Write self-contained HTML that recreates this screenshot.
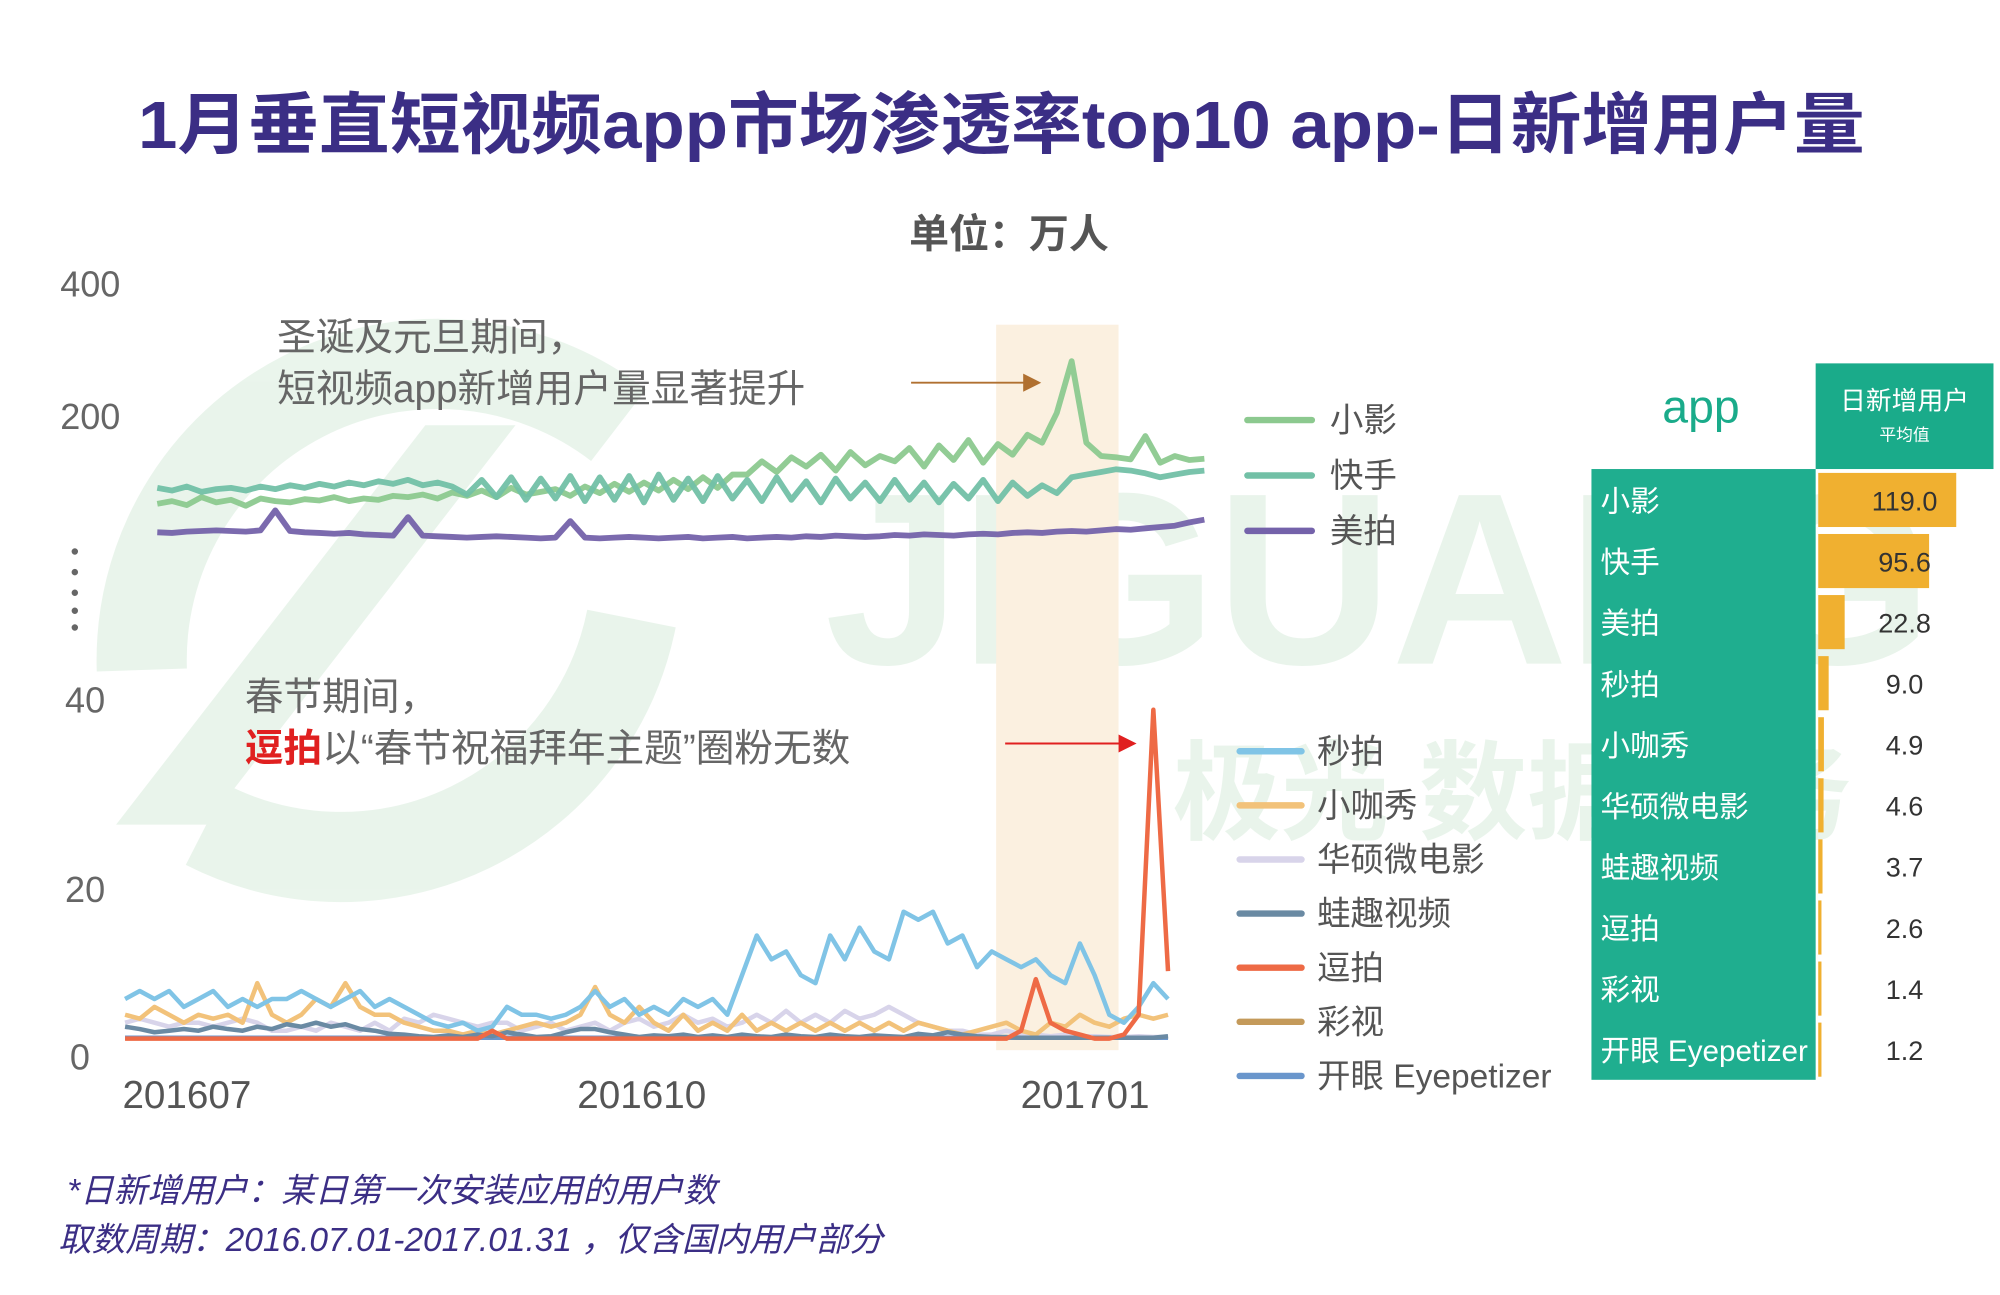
<!DOCTYPE html>
<html><head><meta charset="utf-8"><style>
html,body{margin:0;padding:0;background:#fff;}
svg{display:block;}
text{font-family:"Liberation Sans","Noto Sans CJK SC",sans-serif;}
</style></head><body>
<svg id="chart" width="2000" height="1295" viewBox="0 0 1552 1005" xmlns="http://www.w3.org/2000/svg">
<rect width="1552" height="1005" fill="#fff"/>
<g opacity="0.55">
  <path d="M110 520 A230 230 0 0 1 480 330" fill="none" stroke="#d8ecdc" stroke-width="70"/>
  <path d="M160 640 A230 230 0 0 0 490 480" fill="none" stroke="#d8ecdc" stroke-width="70"/>
  <path d="M90 640 L330 330 L400 330 L160 640 Z" fill="#d8ecdc"/>
  <text x="640" y="515" font-size="190" font-weight="bold" fill="#d8ecdc" textLength="860">JIGUANG</text>
  <text x="910" y="645" font-size="84" font-weight="bold" fill="#d8ecdc">极光 数据服务</text>
</g>
<text x="777" y="115" text-anchor="middle" font-size="52" font-weight="bold" fill="#3b2e85" textLength="1340" lengthAdjust="spacingAndGlyphs">1月垂直短视频app市场渗透率top10 app-日新增用户量</text>
<text x="783" y="192" text-anchor="middle" font-size="31" font-weight="bold" fill="#555">单位：万人</text>
<rect x="773" y="252" width="95" height="563" fill="#fbf0e0"/>
<g font-size="28" fill="#666" text-anchor="middle">
  <text x="70" y="230">400</text><text x="70" y="333">200</text>
  <text x="66" y="553">40</text><text x="66" y="700">20</text><text x="62" y="830">0</text>
</g>
<g fill="#666">
  <circle cx="58" cy="428" r="2.5"/><circle cx="58" cy="444" r="2.5"/><circle cx="58" cy="460" r="2.5"/><circle cx="58" cy="474" r="2.5"/><circle cx="58" cy="487" r="2.5"/>
</g>
<g font-size="30" fill="#555" text-anchor="middle">
  <text x="145" y="860">201607</text><text x="498" y="860">201610</text><text x="842" y="860">201701</text>
</g>
<g id="upper"></g>
<g id="lower"></g>
<g font-size="30" fill="#666">
  <text x="215" y="272">圣诞及元旦期间，</text>
  <text x="215" y="312">短视频app新增用户量显著提升</text>
  <line x1="707" y1="297" x2="796" y2="297" stroke="#b07030" stroke-width="1.5"/>
  <polygon points="794,290 808,297 794,304" fill="#b07030"/>
</g>
<g font-size="30" fill="#666">
  <text x="190" y="551">春节期间，</text>
  <text x="190" y="591"><tspan fill="#e02020" font-weight="bold">逗拍</tspan>以“春节祝福拜年主题”圈粉无数</text>
  <line x1="780" y1="577" x2="870" y2="577" stroke="#e02020" stroke-width="1.5"/>
  <polygon points="868,570 882,577 868,584" fill="#e02020"/>
</g>
<g id="legend" font-size="26" fill="#555"></g>
<text x="1320" y="328" text-anchor="middle" font-size="36" fill="#1aab8a">app</text>
<rect x="1409" y="282" width="138" height="82" fill="#1aab8a"/>
<text x="1478" y="318" text-anchor="middle" font-size="20" fill="#fff">日新增用户</text>
<text x="1478" y="342" text-anchor="middle" font-size="13" fill="#fff">平均值</text>
<rect x="1235" y="364" width="174" height="474" fill="#1fae8f"/>
<g id="table"></g>
<g font-size="26" font-style="italic" fill="#3b2e85">
  <text x="52" y="933">*日新增用户：某日第一次安装应用的用户数</text>
  <text x="45" y="971">取数周期：2016.07.01-2017.01.31 ，仅含国内用户部分</text>
</g>
</svg>
<script>
const upperNames = ["小影","快手","美拍"];
const upperColors = ["#8cc98f","#72c0a6","#7462aa"];
const xiaoying = [68,72,66,78,70,74,65,76,72,70,75,73,78,72,76,74,80,78,82,76,
85,80,88,78,92,82,86,90,80,94,84,98,86,100,88,104,90,108,92,112,
112,132,116,138,124,142,118,146,126,140,132,152,124,156,134,164,130,158,142,172,
160,205,283,160,140,138,135,170,130,140,134,136];
const kuaishou = [92,88,94,86,90,92,88,94,90,96,92,98,94,100,96,102,98,104,96,100,
94,82,104,78,108,74,106,76,110,72,108,74,110,70,112,74,106,72,110,76,
104,72,108,74,102,70,106,76,100,72,104,74,100,70,98,76,104,72,100,80,
96,84,108,112,116,120,118,114,108,112,116,118];
const meipai = [25,24,26,27,28,27,26,28,58,27,25,24,23,24,22,21,20,48,20,19,
18,17,18,19,18,17,16,17,42,17,16,17,18,17,16,17,18,16,17,18,
16,17,18,17,19,18,20,19,18,19,21,20,22,21,20,22,23,22,24,25,
24,26,27,26,28,30,29,31,33,35,40,44];
const lowerNames = ["秒拍","小咖秀","华硕微电影","蛙趣视频","逗拍","彩视","开眼 Eyepetizer"];
const lowerColors = ["#80c4e6","#f2c27a","#d8d4ea","#6a8aa3","#ee6a45","#c49a5a","#6a96cc"];
const miaopai = [5,6,5,6,4,5,6,4,5,4,5,5,6,5,4,5,6,4,5,4,
3,2,1.5,2,1,1.5,4,3,3,2.5,3,4,6,4,5,3,4,3,5,4,
5,3,8,13,10,11,8,7,13,10,14,11,10,16,15,16,12,13,9,11,
10,9,10,8,7,12,8,3,2,4,7,5];
const xiaokaxiu = [3,2.5,4,3,2,3,2.5,3,2,7,3,2,3,5,4,7,4,3,3,2,
1.5,1,1,0.5,1,0.5,1,1.5,2,1.5,2,3,6.5,3,2,4,2,1,3,1,
2,1,3,1,2,1,2,1,2,1,2,1,2,1,2,1.5,1,0.5,1,1.5,
2,1,0.5,2,1.5,3,2,1.5,2.5,3,2.5,3];
const huashuo = [2,2.5,2,1.5,2,2,1.5,2,2.5,2,1,1,1.5,1,2,1.5,1,2,1,2.5,
2,3,2.5,2,1.5,2,2,1,1.5,2,1,1.5,2,1,2,2.5,1.5,2,3,2,
2.5,1.5,2,3,2,3.5,2,3,2,3.5,2.5,3,4,3,2,1.5,1,1,0.5,0.5,
1,0.5,0.5,0.3,0.5,0.3,0.3,0.2,0.2,0.3,0.2,0.2];
const waqu = [1.5,1.2,0.8,1,1.2,1,1.5,1.2,1,1.5,1.2,1.8,1.5,2,1.5,1.8,1.2,1,0.6,0.5,
0.3,0.2,0.4,0.2,0.5,0.3,0.8,0.5,0.2,0.3,0.8,1.2,1.2,0.8,0.5,0.2,0.4,0.3,0.5,0.2,
0.4,0.2,0.5,0.3,0.2,0.5,0.3,0.2,0.5,0.3,0.2,0.4,0.3,0.2,0.6,0.4,0.8,0.5,0.3,0.2,
0.2,0.1,0.1,0.1,0.1,0.1,0.1,0.1,0.1,0.1,0.1,0.3];
const doupai = [0,0,0,0,0,0,0,0,0,0,0,0,0,0,0,0,0,0,0,0,
0,0,0,0,0,1,0,0,0,0,0,0,0,0,0,0,0,0,0,0,
0,0,0,0,0,0,0,0,0,0,0,0,0,0,0,0,0,0,0,0,
0,1,7.5,2,1,0.5,0,0,0.5,3,41.5,8.5];
const caishi = new Array(72).fill(0.1);
const kaiyan = new Array(72).fill(0.1);
const tableApps = ["小影","快手","美拍","秒拍","小咖秀","华硕微电影","蛙趣视频","逗拍","彩视","开眼 Eyepetizer"];
const tableValues = [119.0,95.6,22.8,9.0,4.9,4.6,3.7,2.6,1.4,1.2];

const NS="http://www.w3.org/2000/svg";
const dayStep=3;
function xUpper(i){return 122+i*dayStep*3.815;}
function xLower(i){return 97+i*dayStep*3.8;}
function yUpper(v){return 323-(v-200)*0.515;}
function yLower(v){return 806-v*6.15;}
function mk(tag,attrs,parent){const e=document.createElementNS(NS,tag);for(const k in attrs)e.setAttribute(k,attrs[k]);parent.appendChild(e);return e;}
function pathD(arr,xf,yf){return arr.map((v,i)=>(i?"L":"M")+xf(i).toFixed(1)+" "+yf(v).toFixed(1)).join("");}

const up=document.getElementById("upper");
[xiaoying,kuaishou,meipai].forEach((s,k)=>{
  const p=mk("path",{d:pathD(s,xUpper,yUpper),fill:"none",stroke:upperColors[k],"stroke-width":4.5,"stroke-linejoin":"round",opacity:0.95},up);
  
  
});
const lo=document.getElementById("lower");
const lowerSeries=[miaopai,xiaokaxiu,huashuo,waqu,doupai,caishi,kaiyan];
[2,1,0,5,6,3,4].forEach(k=>{
  const p=mk("path",{d:pathD(lowerSeries[k],xLower,yLower),fill:"none",stroke:lowerColors[k],"stroke-width":3.5,"stroke-linejoin":"round"},lo);
  
  
});
const lg=document.getElementById("legend");
upperNames.forEach((n,k)=>{
  const y=326+k*43;
  const l=mk("line",{x1:968,x2:1018,y1:y,y2:y,stroke:upperColors[k],"stroke-width":5,"stroke-linecap":"round"},lg);
  
  
  const t=mk("text",{x:1032,y:y+9},lg);t.textContent=n;
  
  
});
lowerNames.forEach((n,k)=>{
  const y=583+k*42;
  const l=mk("line",{x1:962,x2:1010,y1:y,y2:y,stroke:lowerColors[k],"stroke-width":5,"stroke-linecap":"round"},lg);
  
  
  const t=mk("text",{x:1022,y:y+9},lg);t.textContent=n;
  
  
});
const tb=document.getElementById("table");
tableApps.forEach((n,k)=>{
  const cy=388+k*47.4;
  const t=mk("text",{x:1242,y:cy+9,"font-size":23,fill:"#fff"},tb);t.textContent=n;
  
  
  const w=Math.max(2.5,tableValues[k]*0.9);
  const r=mk("rect",{x:1411,y:cy-21,width:w,height:42,fill:"#f0b030"},tb);
  
  
  const v=mk("text",{x:1478,y:cy+8,"font-size":21,fill:"#333","text-anchor":"middle"},tb);v.textContent=tableValues[k].toFixed(1);
  
  
});
</script>
</body></html>
